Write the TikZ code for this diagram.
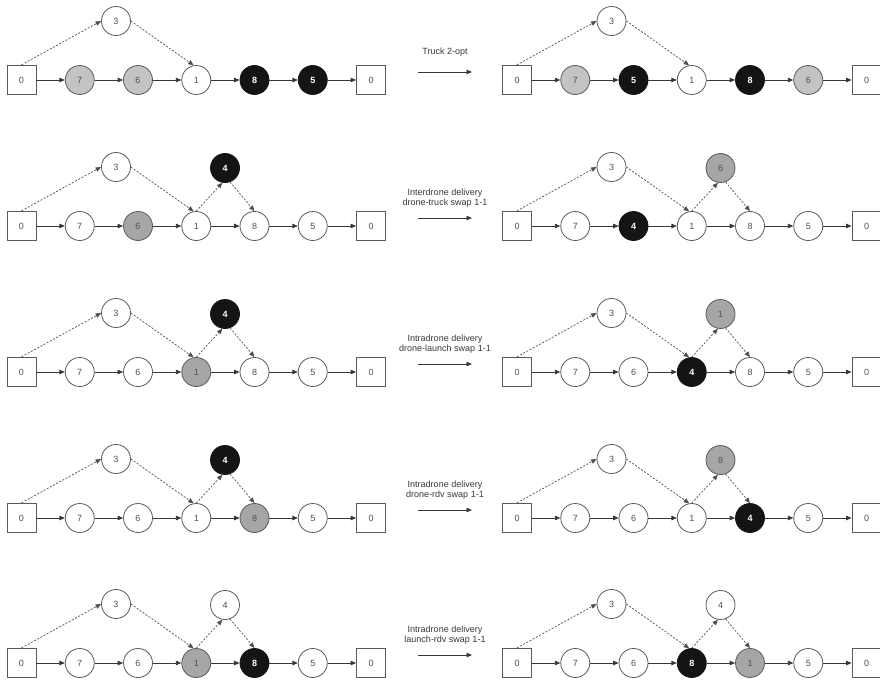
\documentclass[tikz,border=0pt]{standalone}
\usepackage{fontspec}
\setmainfont{Liberation Sans}
\usetikzlibrary{arrows.meta}

\definecolor{rim}{HTML}{5A5A5A}
\definecolor{ink}{HTML}{141414}
\definecolor{txt}{HTML}{505050}
\definecolor{lightg}{HTML}{C3C3C3}
\definecolor{midg}{HTML}{A6A6A6}

\tikzset{
  stop/.style={circle, draw=rim, line width=0.8pt, minimum size=29pt, inner sep=0pt,
    fill=white, text=txt, font=\fontsize{9}{9}\selectfont},
  lightstop/.style={stop, fill=lightg},
  midstop/.style={stop, fill=midg},
  darkstop/.style={stop, draw=ink, fill=ink, text=white, font=\fontsize{9}{9}\selectfont\bfseries},
  depot/.style={rectangle, draw=rim, line width=0.8pt, minimum width=29pt, minimum height=29.5pt,
    inner sep=0pt, fill=white, text=txt, font=\fontsize{9}{9}\selectfont},
  flow/.style={draw=ink!85, line width=0.8pt, -{Triangle[length=5.5pt,width=4.5pt]}},
  hop/.style={draw=ink!75, line width=0.7pt, dash pattern=on 2pt off 1.6pt,
    -{Triangle[length=5.5pt,width=4.5pt]}},
  movelabel/.style={align=center, text=ink!85, font=\fontsize{9}{10}\selectfont},
}

% One route: depot, five stops, depot, joined by truck arrows.
% #1 name prefix, #2 x offset, #3 y of the route, #4 list of style/label pairs
\newcommand\truckroute[4]{%
  \node[depot] (#1d0) at (#2+21.5,#3) {0};
  \foreach \st/\tx [count=\i] in {#4} {
    \node[\st] (#1c\i) at (#2+21.5+58.25*\i,#3) {\tx};
  }
  \node[depot] (#1d6) at (#2+21.5+58.25*6,#3) {0};
  \draw[flow] (#1d0) -- (#1c1);
  \foreach \i [evaluate=\i as \j using int(\i+1)] in {1,...,4} {
    \draw[flow] (#1c\i) -- (#1c\j);
  }
  \draw[flow] (#1c5) -- (#1d6);
}

% Drone sortie from a launch stop to a rendezvous stop through a customer.
% #1 launch node, #2 drone node, #3 rendezvous node
\newcommand\sortie[3]{%
  \draw[hop] (#1.100) -- (#2.west);
  \draw[hop] (#2.east) -- (#3.100);
}
\newcommand\sortieb[3]{%
  \draw[hop] (#1.north) -- (#2.-100);
  \draw[hop] (#2.-70) -- (#3.north);
}

% Move arrow between the two routes of a row: #1 name, #2 y of the route, #3 label
\newcommand\move[3]{%
  \coordinate (#1a) at (418,#2-8);
  \coordinate (#1b) at (472,#2-8);
  \draw[flow] (#1a) -- (#1b);
  \node[movelabel] (#1l) at (445,#2-28) {#3};
}

\begin{document}
\begin{tikzpicture}[x=1pt,y=-1pt]
\useasboundingbox (0,0) rectangle (880,682);

% ---------- Truck 2-opt ----------
\truckroute{a}{0}{80}{lightstop/7,lightstop/6,stop/1,darkstop/8,darkstop/5}
\node[stop] (at3) at (116,21) {3};
\draw[hop] (ad0.north) -- (at3.west);
\draw[hop] (at3.east) -- (ac3.100);
\move{ma}{80}{Truck 2-opt}
\truckroute{b}{495.5}{80}{lightstop/7,darkstop/5,stop/1,darkstop/8,lightstop/6}
\node[stop] (bt3) at (495.5+116,21) {3};
\draw[hop] (bd0.north) -- (bt3.west);
\draw[hop] (bt3.east) -- (bc3.100);

% ---------- Interdrone drone-truck swap ----------
\truckroute{c}{0}{226}{stop/7,midstop/6,stop/1,stop/8,stop/5}
\node[stop] (ct3) at (116,167) {3};
\node[darkstop] (ct4) at (225,168) {4};
\draw[hop] (cd0.north) -- (ct3.west);
\draw[hop] (ct3.east) -- (cc3.100);
\sortieb{cc3}{ct4}{cc4}
\move{mb}{226}{Interdrone delivery\\drone-truck swap 1-1}
\truckroute{e}{495.5}{226}{stop/7,darkstop/4,stop/1,stop/8,stop/5}
\node[stop] (et3) at (495.5+116,167) {3};
\node[midstop] (et6) at (495.5+225,168) {6};
\draw[hop] (ed0.north) -- (et3.west);
\draw[hop] (et3.east) -- (ec3.100);
\sortieb{ec3}{et6}{ec4}

% ---------- Intradrone drone-launch swap ----------
\truckroute{f}{0}{372}{stop/7,stop/6,midstop/1,stop/8,stop/5}
\node[stop] (ft3) at (116,313) {3};
\node[darkstop] (ft4) at (225,314) {4};
\draw[hop] (fd0.north) -- (ft3.west);
\draw[hop] (ft3.east) -- (fc3.100);
\sortieb{fc3}{ft4}{fc4}
\move{mc}{372}{Intradrone delivery\\drone-launch swap 1-1}
\truckroute{g}{495.5}{372}{stop/7,stop/6,darkstop/4,stop/8,stop/5}
\node[stop] (gt3) at (495.5+116,313) {3};
\node[midstop] (gt1) at (495.5+225,314) {1};
\draw[hop] (gd0.north) -- (gt3.west);
\draw[hop] (gt3.east) -- (gc3.100);
\sortieb{gc3}{gt1}{gc4}

% ---------- Intradrone drone-rdv swap ----------
\truckroute{h}{0}{518}{stop/7,stop/6,stop/1,midstop/8,stop/5}
\node[stop] (ht3) at (116,459) {3};
\node[darkstop] (ht4) at (225,460) {4};
\draw[hop] (hd0.north) -- (ht3.west);
\draw[hop] (ht3.east) -- (hc3.100);
\sortieb{hc3}{ht4}{hc4}
\move{md}{518}{Intradrone delivery\\drone-rdv swap 1-1}
\truckroute{k}{495.5}{518}{stop/7,stop/6,stop/1,darkstop/4,stop/5}
\node[stop] (kt3) at (495.5+116,459) {3};
\node[midstop] (kt8) at (495.5+225,460) {8};
\draw[hop] (kd0.north) -- (kt3.west);
\draw[hop] (kt3.east) -- (kc3.100);
\sortieb{kc3}{kt8}{kc4}

% ---------- Intradrone launch-rdv swap ----------
\truckroute{p}{0}{663}{stop/7,stop/6,midstop/1,darkstop/8,stop/5}
\node[stop] (pt3) at (116,604) {3};
\node[stop] (pt4) at (225,605) {4};
\draw[hop] (pd0.north) -- (pt3.west);
\draw[hop] (pt3.east) -- (pc3.100);
\sortieb{pc3}{pt4}{pc4}
\move{me}{663}{Intradrone delivery\\launch-rdv swap 1-1}
\truckroute{q}{495.5}{663}{stop/7,stop/6,darkstop/8,midstop/1,stop/5}
\node[stop] (qt3) at (495.5+116,604) {3};
\node[stop] (qt4) at (495.5+225,605) {4};
\draw[hop] (qd0.north) -- (qt3.west);
\draw[hop] (qt3.east) -- (qc3.100);
\sortieb{qc3}{qt4}{qc4}
\end{tikzpicture}
\end{document}
